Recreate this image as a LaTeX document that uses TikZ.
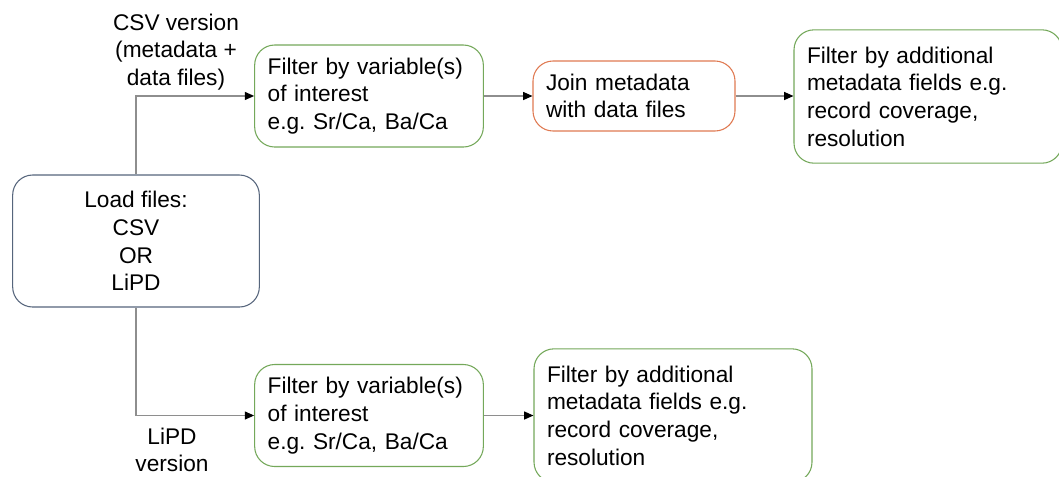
\documentclass[tikz,border=0pt]{standalone}
\usepackage{fontspec}
\setmainfont{Liberation Sans}
\usetikzlibrary{arrows.meta}
\definecolor{flowgreen}{HTML}{74A85A}
\definecolor{flowred}{HTML}{E07A52}
\definecolor{flowslate}{HTML}{56657C}
\definecolor{flowgray}{HTML}{8E8E8E}
\frenchspacing

\begin{document}
\begin{tikzpicture}[x=0.75pt,y=-0.75pt,
  every node/.style={font=\fontsize{17}{20.8}\selectfont},
  stepbox/.style={rectangle,draw=flowgreen,rounded corners=15pt,
    fill=white,align=left,inner xsep=9.75pt,inner ysep=0pt,line width=0.8pt},
  startbox/.style={rectangle,draw=flowslate,rounded corners=15pt,
    fill=white,align=center,minimum width=185pt,minimum height=99pt,line width=0.8pt},
  arr/.style={-{Triangle[length=7pt,width=6pt,color=black]},color=flowgray,line width=0.9pt}
]
  \useasboundingbox (0,0) rectangle (1059,476);

  \node[startbox] (load) at (136,241) {Load files:\\CSV\\OR\\LiPD};

  \node[stepbox,text width=152pt,minimum height=76.5pt] (filtcsv) at (369,96)
    {Filter by variable(s)\\of interest\\e.g. Sr/Ca, Ba/Ca};
  \node[stepbox,draw=flowred,text width=132pt,minimum height=52.5pt] (join) at (634,96)
    {Join metadata\\with data files};
  \node[stepbox,text width=181.5pt,minimum height=100pt] (addcsv) at (928,96.5)
    {Filter by additional\\metadata fields e.g.\\record coverage,\\resolution};

  \node[stepbox,text width=152pt,minimum height=76.5pt] (filtlipd) at (369,415.5)
    {Filter by variable(s)\\of interest\\e.g. Sr/Ca, Ba/Ca};
  \node[stepbox,text width=189pt,minimum height=100pt] (addlipd) at (673,415.5)
    {Filter by additional\\metadata fields e.g.\\record coverage,\\resolution};

  \node[align=center] (csvlab) at (176,52) {CSV version\\(metadata +\\data files)};
  \node[align=center] (lipdlab) at (172,450) {LiPD\\version};

  \draw[arr] (load.north) |- (filtcsv.west);
  \draw[arr] (load.south) |- (filtlipd.west);
  \draw[arr] (filtcsv) -- (join);
  \draw[arr] (join.east) -- (addcsv.west |- join.east);
  \draw[arr] (filtlipd) -- (addlipd);
\end{tikzpicture}
\end{document}
